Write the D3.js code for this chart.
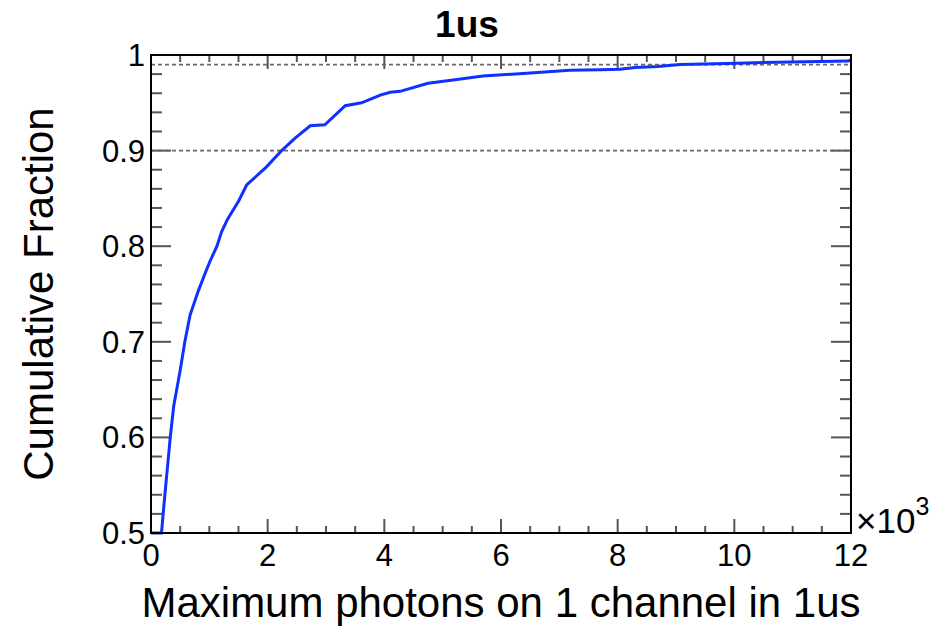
<!DOCTYPE html>
<html>
<head>
<meta charset="utf-8">
<script src="https://cdnjs.cloudflare.com/ajax/libs/d3/7.8.5/d3.min.js"></script>
<style>
  body { margin: 0; background: #fff; }
  text { font-family: "Liberation Sans", Arial, sans-serif; fill: #000; }
</style>
</head>
<body>
<script>
// curve (x in thousands of photons)
var photonsK = [0, 0.18, 0.22, 0.33, 0.39, 0.5, 0.58, 0.67, 0.81, 0.93, 1.01, 1.13, 1.21, 1.31, 1.5, 1.64,
                1.98, 2.24, 2.47, 2.73, 2.98, 3.33, 3.61, 3.93, 4.1, 4.27, 4.75, 5.21, 5.69, 6.44, 7.18,
                7.7, 8.04, 8.3, 8.69, 9.07, 10.04, 10.73, 11.95, 12];
var cumFrac = [0.5, 0.5, 0.528, 0.6, 0.633, 0.67, 0.7, 0.728, 0.753, 0.772, 0.784, 0.8, 0.815, 0.828, 0.847, 0.864,
               0.883, 0.9, 0.913, 0.926, 0.927, 0.947, 0.95, 0.958, 0.961, 0.962, 0.9705, 0.974, 0.978, 0.981, 0.984,
               0.9846, 0.985, 0.987, 0.988, 0.99, 0.9914, 0.9924, 0.9937, 0.995];
var xTicks = [0, 2, 4, 6, 8, 10, 12];
var yTicks = [0.5, 0.6, 0.7, 0.8, 0.9, 1];
var refLines = [0.9, 0.99];

var width = 933, height = 627;
var margin = {left: 151, right: 82, top: 55, bottom: 94};
var w = width - margin.left - margin.right;
var h = height - margin.top - margin.bottom;

var svg = d3.select("body").append("svg").attr("width", width).attr("height", height);
var chartGroup = svg.append("g").attr("transform", "translate(" + margin.left + "," + margin.top + ")");

var x = d3.scaleLinear().domain([0, 12]).range([0, w]);
var y = d3.scaleLinear().domain([0.5, 1]).range([h, 0]);

// minor + major ticks, drawn inward on all four sides
var xMinor = d3.range(0, 12.001, 0.5);
var yMinor = d3.range(0.5, 1.0001, 0.02);
var tickCol = "#555";

chartGroup.selectAll(".xb").data(xMinor).enter().append("line")
  .attr("x1", function(d){ return x(d); }).attr("x2", function(d){ return x(d); })
  .attr("y1", h).attr("y2", function(d){ return h - (Math.abs(d % 2) < 1e-6 ? 14 : 7); })
  .attr("stroke", tickCol).attr("stroke-width", 2);
chartGroup.selectAll(".xt").data(xMinor).enter().append("line")
  .attr("x1", function(d){ return x(d); }).attr("x2", function(d){ return x(d); })
  .attr("y1", 0).attr("y2", function(d){ return (Math.abs(d % 2) < 1e-6 ? 14 : 7); })
  .attr("stroke", tickCol).attr("stroke-width", 2);

function isMajorY(d) { var r = Math.round(d * 10) / 10; return Math.abs(d - r) < 1e-6; }
chartGroup.selectAll(".yl").data(yMinor).enter().append("line")
  .attr("y1", function(d){ return y(d); }).attr("y2", function(d){ return y(d); })
  .attr("x1", 0).attr("x2", function(d){ return isMajorY(d) ? 20 : 11; })
  .attr("stroke", tickCol).attr("stroke-width", 2);
chartGroup.selectAll(".yr").data(yMinor).enter().append("line")
  .attr("y1", function(d){ return y(d); }).attr("y2", function(d){ return y(d); })
  .attr("x1", w).attr("x2", function(d){ return w - (isMajorY(d) ? 20 : 11); })
  .attr("stroke", tickCol).attr("stroke-width", 2);

// dotted reference lines
chartGroup.selectAll(".ref").data(refLines).enter().append("line")
  .attr("x1", 0).attr("x2", w)
  .attr("y1", function(d){ return y(d); }).attr("y2", function(d){ return y(d); })
  .attr("stroke", "#666").attr("stroke-width", 1.8).attr("stroke-dasharray", "4,3");

// curve
var pts = photonsK.map(function(k, i){ return [k, cumFrac[i]]; });
var line = d3.line().x(function(d){ return x(d[0]); }).y(function(d){ return y(d[1]); });
chartGroup.append("path").attr("d", line(pts))
  .attr("fill", "none").attr("stroke", "#1030ff").attr("stroke-width", 3);

// frame
chartGroup.append("rect").attr("width", w).attr("height", h)
  .attr("fill", "none").attr("stroke", "#000").attr("stroke-width", 2);

// tick labels
chartGroup.selectAll(".xlab").data(xTicks).enter().append("text")
  .attr("x", function(d){ return x(d); }).attr("y", h + 33)
  .attr("text-anchor", "middle").style("font-size", "31px")
  .text(function(d){ return d; });
chartGroup.selectAll(".ylab").data(yTicks).enter().append("text")
  .attr("x", -6).attr("y", function(d){ return y(d) + 11; })
  .attr("text-anchor", "end").style("font-size", "31px")
  .text(function(d){ return d; });

// exponent label
var ex = svg.append("text").attr("x", margin.left + w + 5).attr("y", margin.top + h)
  .style("font-size", "35px");
ex.append("tspan").text("\u00D710");
ex.append("tspan").attr("dy", -18).style("font-size", "25px").text("3");

// titles
svg.append("text").attr("x", 467).attr("y", 37).attr("text-anchor", "middle")
  .style("font-size", "37px").style("font-weight", "bold").text("1us");
svg.append("text").attr("x", margin.left + w / 2).attr("y", 617).attr("text-anchor", "middle")
  .style("font-size", "42px").text("Maximum photons on 1 channel in 1us");
svg.append("text").attr("text-anchor", "middle")
  .attr("transform", "translate(53," + (margin.top + h / 2) + ")rotate(-90)")
  .style("font-size", "42px").text("Cumulative Fraction");
</script>
</body>
</html>
